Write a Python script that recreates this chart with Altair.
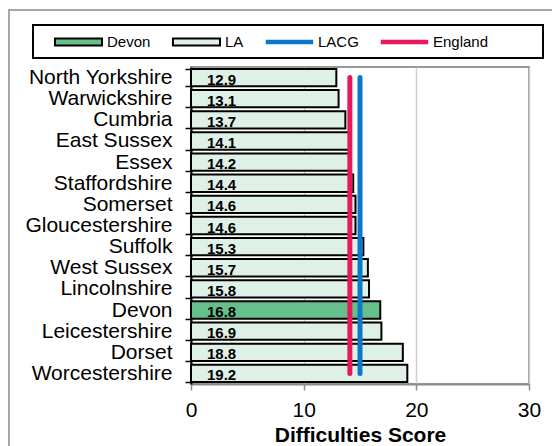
import altair as alt
import pandas as pd

# ---- data ----
counties = ["North Yorkshire", "Warwickshire", "Cumbria", "East Sussex", "Essex",
            "Staffordshire", "Somerset", "Gloucestershire", "Suffolk", "West Sussex",
            "Lincolnshire", "Devon", "Leicestershire", "Dorset", "Worcestershire"]
scores = [12.9, 13.1, 13.7, 14.1, 14.2, 14.4, 14.6, 14.6, 15.3, 15.7, 15.8, 16.8, 16.9, 18.8, 19.2]
highlight = "Devon"

bench_names = ["LACG", "England"]
bench_values = [15.0, 14.1]

series_names = ["Devon", "LA", "LACG", "England"]
series_fill = ["#66c08b", "#dff0e6", "#0b78c9", "#e8195a"]
series_stroke = ["#000000", "#000000", "#0b78c9", "#e8195a"]

x_ticks = [0, 10, 20, 30]

FONT = "Liberation Sans"

bars_df = pd.DataFrame({"county": counties, "score": scores})
bench_df = pd.DataFrame({
    "series": bench_names,
    "score": bench_values,
    "county": [counties[0]] * len(bench_names),
    "county_end": [counties[-1]] * len(bench_names),
})
legend_df = pd.DataFrame({"series": series_names})

x_axis = alt.Axis(values=x_ticks, title="Difficulties Score", grid=True,
                  gridColor="#d0d0d0", gridWidth=1.5, labelFlush=False,
                  domainColor="#8c8c8c", domainWidth=2,
                  tickColor="#8c8c8c", tickWidth=1.5, tickSize=6,
                  labelFontSize=21, labelColor="black", labelPadding=9,
                  labelFont=FONT, titleFont=FONT, titleFontSize=21,
                  titleFontWeight="bold", titleColor="black", titlePadding=4)
y_axis = alt.Axis(title=None, domainColor="black", domainWidth=2,
                  tickColor="black", tickWidth=1.5, tickSize=6, tickBand="extent",
                  labelFontSize=21, labelColor="black", labelPadding=13,
                  labelFont=FONT, grid=False)

x_scale = alt.Scale(domain=[0, 30], nice=False)
y_scale = alt.Scale(domain=counties, paddingInner=0.18, paddingOuter=0.09)

def X(field):
    return alt.X(field, scale=x_scale, axis=x_axis)

def Y():
    return alt.Y("county:N", scale=y_scale, axis=y_axis)

frame = alt.Chart(pd.DataFrame({"f": [0]})).mark_rect(
    filled=False, stroke="#8a8a8a", strokeWidth=1.5
).encode(x=alt.value(-182), x2=alt.value(600), y=alt.value(-57), y2=alt.value(500))

bars = alt.Chart(bars_df).mark_bar(stroke="black", strokeWidth=2).encode(
    x=X("score:Q"),
    y=Y(),
    fill=alt.condition(alt.datum.county == highlight,
                       alt.value(series_fill[0]), alt.value(series_fill[1])),
)

labels = alt.Chart(bars_df).transform_calculate(zero="0").mark_text(
    align="left", baseline="alphabetic", dx=16, dy=7,
    fontSize=15, fontWeight="bold", font=FONT, color="black"
).encode(
    x=X("zero:Q"),
    y=Y(),
    text=alt.Text("score:Q", format=".1f"),
)

def bench_rule(name, color):
    return alt.Chart(bench_df).transform_filter(alt.datum.series == name).mark_rule(
        color=color, strokeWidth=5, strokeCap="round"
    ).encode(x=X("score:Q"), y=Y(), y2="county_end:N")

rule_england = bench_rule("England", series_stroke[3])
rule_lacg = bench_rule("LACG", series_stroke[2])

rect_path = "M0.62,-0.44H6.5V0.44H0.62Z"
line_path = "M0.72,-0.17H6.4V0.17H0.72Z"
series_shapes = [rect_path, rect_path, line_path, line_path]

# invisible spacer title widens the legend frame to the right, as in the reference
legend_kw = dict(title="England", titleOrient="right", titlePadding=11,
                 titleFontSize=9, titleColor="white", titleFont=FONT)

legend_layer = alt.Chart(legend_df).transform_filter(
    "datum.series == '__none__'"
).mark_point(filled=True, opacity=1, strokeWidth=2).encode(
    fill=alt.Fill("series:N", scale=alt.Scale(domain=series_names, range=series_fill),
                  legend=alt.Legend(**legend_kw)),
    stroke=alt.Stroke("series:N", scale=alt.Scale(domain=series_names, range=series_stroke),
                      legend=alt.Legend(**legend_kw)),
    shape=alt.Shape("series:N", scale=alt.Scale(domain=series_names, range=series_shapes),
                    legend=alt.Legend(**legend_kw)),
)

chart = alt.layer(frame, bars, labels, rule_england, rule_lacg, legend_layer).properties(
    width=338, height=317,
    autosize=alt.AutoSizeParams(type="none"),
    padding={"left": 183, "top": 59, "right": 23, "bottom": 62},
).configure(font=FONT).configure_view(
    stroke="#999999", strokeWidth=2
).configure_legend(
    orient="none", legendX=-158, legendY=-42, direction="horizontal",
    symbolSize=256, symbolStrokeWidth=2, labelOffset=48, columnPadding=8,
    padding=8, strokeColor="black", strokeWidth=2,
    labelFontSize=15, labelFont=FONT, labelColor="black",
)

chart.save("out.html", embed_options={"renderer": "svg", "actions": False})
